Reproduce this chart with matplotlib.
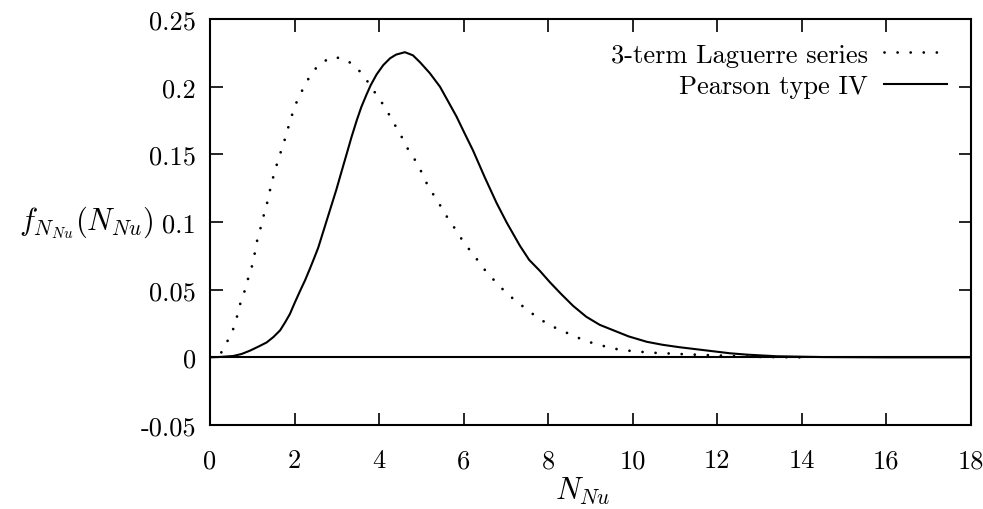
import matplotlib
matplotlib.use("Agg")
import matplotlib.pyplot as plt

plt.rcParams['font.family'] = ['cmr10', 'DejaVu Serif']
plt.rcParams['mathtext.fontset'] = 'cm'
plt.rcParams['axes.unicode_minus'] = False

# Pearson type IV (solid)
pearson_x = [0.0, 0.25, 0.55, 0.75, 0.95, 1.15, 1.34, 1.5, 1.66, 1.78, 1.89, 2.0, 2.13, 2.25,
             2.37, 2.46, 2.56, 2.66, 2.76, 2.87, 2.99, 3.1, 3.23, 3.35, 3.47, 3.58, 3.7, 3.8,
             3.94, 4.1, 4.26, 4.4, 4.61, 4.8, 4.97, 5.2, 5.44, 5.6, 5.83, 6.0, 6.22, 6.5, 6.78,
             7.02, 7.33, 7.55, 7.8, 8.04, 8.3, 8.59, 8.9, 9.22, 9.54, 9.9, 10.33, 10.7, 11.1,
             11.5, 11.9, 12.3, 12.7, 13.4, 14.5, 16.0, 18.0]
pearson_y = [0.0, 0.0003, 0.001, 0.0025, 0.005, 0.008, 0.011, 0.015, 0.020, 0.026, 0.032, 0.040,
             0.049, 0.057, 0.066, 0.073, 0.081, 0.091, 0.101, 0.112, 0.124, 0.136, 0.150, 0.163,
             0.175, 0.185, 0.194, 0.201, 0.209, 0.216, 0.221, 0.2237, 0.2255, 0.2232, 0.2180,
             0.210, 0.200, 0.191, 0.178, 0.167, 0.153, 0.133, 0.114, 0.0995, 0.0825, 0.072,
             0.064, 0.0555, 0.047, 0.038, 0.030, 0.024, 0.020, 0.0155, 0.0115, 0.0093, 0.0075,
             0.006, 0.0045, 0.003, 0.002, 0.0008, 0.0002, 0.0, 0.0]

# 3-term Laguerre series (dotted)
laguerre_x = [0.0, 0.24, 0.39, 0.53, 0.63, 0.71, 0.81, 0.89, 0.99, 1.06, 1.12, 1.2, 1.28, 1.36,
              1.43, 1.51, 1.6, 1.79, 1.88, 1.97, 2.09, 2.23, 2.39, 2.6, 2.89, 3.19, 3.46, 3.66,
              3.85, 4.02, 4.19, 4.35, 4.51, 4.64, 4.82, 4.97, 5.12, 5.27, 5.44, 5.61, 5.78, 5.96,
              6.15, 6.34, 6.54, 6.75, 6.98, 7.22, 7.47, 7.72, 7.99, 8.29, 8.57, 8.88, 9.18, 9.48,
              9.8, 10.4, 11.3, 12.3, 13.0, 14.0]
laguerre_y = [0.0, 0.002, 0.0106, 0.019, 0.029, 0.039, 0.048, 0.057, 0.067, 0.077, 0.087, 0.096,
              0.106, 0.115, 0.125, 0.135, 0.1445, 0.163, 0.173, 0.182, 0.192, 0.200, 0.2095, 0.217,
              0.222, 0.2206, 0.2144, 0.207, 0.198, 0.1905, 0.182, 0.173, 0.1645, 0.156, 0.1475,
              0.139, 0.129, 0.121, 0.1125, 0.1036, 0.0958, 0.087, 0.079, 0.0714, 0.063, 0.056,
              0.0485, 0.042, 0.036, 0.030, 0.0246, 0.020, 0.0165, 0.012, 0.0096, 0.0068, 0.0052,
              0.0035, 0.0022, 0.001, 0.0003, 0.0]

xticks = [0, 2, 4, 6, 8, 10, 12, 14, 16, 18]
yticks = [-0.05, 0, 0.05, 0.1, 0.15, 0.2, 0.25]
ytick_labels = ['-0.05', '0', '0.05', '0.1', '0.15', '0.2', '0.25']

fig = plt.figure(figsize=(9.83, 5.10), dpi=100)
ax = fig.add_axes([0.2136, 0.1647, 0.7742, 0.796])

ax.plot(laguerre_x, laguerre_y, color='black', lw=2.0, linestyle=(0, (0.01, 4.7)),
        dash_capstyle='round', label='3-term Laguerre series')
ax.plot(pearson_x, pearson_y, color='black', lw=1.5, label='Pearson type IV')
ax.axhline(0, color='black', lw=1.5)

ax.set_xlim(0, 18)
ax.set_ylim(-0.05, 0.25)
ax.set_xticks(xticks)
ax.set_xticklabels([str(t) for t in xticks])
ax.set_yticks(yticks)
ax.set_yticklabels(ytick_labels)
ax.tick_params(direction='in', length=9, width=1.2, top=True, right=True, labelsize=19)
ax.tick_params(axis='y', pad=10)
ax.tick_params(axis='x', pad=17)
for s in ax.spines.values():
    s.set_linewidth(1.5)

ax.set_xlabel(r'$N_{Nu}$', fontsize=22, va='center')
ax.xaxis.set_label_coords(0.49, -0.16)
ax.set_ylabel(r'$f_{N_{Nu}}(N_{Nu})$', fontsize=22, rotation=0, ha='right', va='center')
ax.yaxis.set_label_coords(-0.074, 0.5)

ax.legend(loc='upper right', frameon=False, markerfirst=False, fontsize=19,
          handlelength=2.4, labelspacing=0.3, borderaxespad=0.5, handletextpad=0.6)

fig.savefig('out.png', dpi=100)
